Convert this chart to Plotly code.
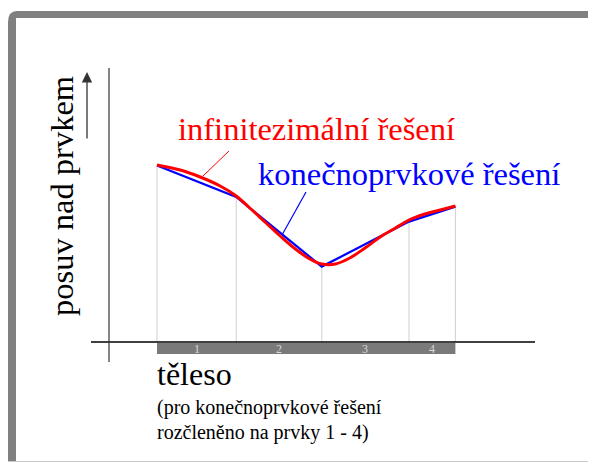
import plotly.graph_objects as go

# body coordinate of the element nodes (element lengths) and displacement values
node_x = [0.0, 0.99, 2.06, 3.15, 3.73]
fe_u = [8.82, 7.25, 3.77, 6.02, 6.77]

# infinitesimal (exact) solution
exact_x = [0.0, 0.29, 0.54, 0.79, 0.99, 1.16, 1.35, 1.54, 1.73, 1.91, 2.06,
           2.23, 2.41, 2.60, 2.79, 2.98, 3.15, 3.35, 3.54, 3.73]
exact_u = [8.85, 8.60, 8.25, 7.80, 7.30, 6.70, 6.00, 5.30, 4.65, 4.15, 3.90,
           3.90, 4.20, 4.70, 5.25, 5.70, 6.10, 6.40, 6.60, 6.80]

element_labels = ['1', '2', '3', '4']

W, H = 596, 462
OFF = 8            # page margin of the browser
X0, SX = 157, 80   # pixel of x=0, pixels per unit
Y0, SY = 342, 20   # pixel of u=0, pixels per unit
FONT = 'Liberation Serif, Times New Roman, Times, serif'


def px(p):
    return (p - X0) / SX


def py(p):
    return (Y0 - p) / SY


fig = go.Figure()

shapes = []
# frame
shapes.append(dict(type='rect', x0=px(8), x1=px(16), y0=py(22), y1=py(470),
                   fillcolor='#808080', line=dict(width=0)))
shapes.append(dict(type='rect', x0=px(16), x1=px(610), y0=py(11), y1=py(18),
                   fillcolor='#808080', line=dict(width=0)))
shapes.append(dict(type='path', path=f'M {px(8)},{py(22)} Q {px(8)},{py(11)} {px(17)},{py(11)} '
                                     f'L {px(17)},{py(18)} L {px(16)},{py(18)} L {px(16)},{py(22)} Z',
                   fillcolor='#808080', line=dict(width=0)))
shapes.append(dict(type='line', x0=px(8), x1=px(610), y0=py(461.5), y1=py(461.5),
                   line=dict(color='#c8c8c8', width=1)))
# axes
shapes.append(dict(type='line', x0=px(91), x1=px(535), y0=0, y1=0,
                   line=dict(color='black', width=1.6)))
shapes.append(dict(type='line', x0=px(109), x1=px(109), y0=py(68), y1=py(362),
                   line=dict(color='#333333', width=1.2)))
# body bar
shapes.append(dict(type='rect', x0=node_x[0], x1=node_x[-1], y0=py(343), y1=py(354),
                   fillcolor='#7a7a7a', line=dict(width=0), layer='below'))
# node grid lines
for xv, uv in zip(node_x, fe_u):
    shapes.append(dict(type='line', x0=xv, x1=xv, y0=uv, y1=0, layer='below',
                       line=dict(color='#d0d0d0', width=1)))
# leader lines
shapes.append(dict(type='line', x0=px(203), y0=py(176), x1=px(229), y1=py(151),
                   line=dict(color='red', width=1)))
shapes.append(dict(type='line', x0=px(282), y0=py(235), x1=px(306), y1=py(192),
                   line=dict(color='blue', width=1.2)))

fig.add_trace(go.Scatter(x=node_x, y=fe_u, mode='lines',
                         line=dict(color='blue', width=2.2), showlegend=False))
fig.add_trace(go.Scatter(x=exact_x, y=exact_u, mode='lines',
                         line=dict(color='red', width=3, shape='spline'), showlegend=False))

ann = []
for i, lab in enumerate(element_labels):
    ann.append(dict(x=(node_x[i] + node_x[i + 1]) / 2, y=py(348.5), text=lab,
                    showarrow=False, font=dict(family=FONT, size=12, color='#d8d8d8')))
ann.append(dict(x=px(176), y=py(129), text='infinitezimální řešení', xanchor='left',
                showarrow=False, font=dict(family=FONT, size=32.5, color='red')))
ann.append(dict(x=px(256), y=py(173.5), text='konečnoprvkové řešení', xanchor='left',
                showarrow=False, font=dict(family=FONT, size=32.5, color='blue')))
ann.append(dict(x=px(62), y=py(196), text='posuv nad prvkem', textangle=-90,
                showarrow=False, font=dict(family=FONT, size=32.5, color='black')))
ann.append(dict(x=px(155), y=py(374), text='těleso', xanchor='left',
                showarrow=False, font=dict(family=FONT, size=32, color='black')))
ann.append(dict(x=px(155), y=py(407), text='(pro konečnoprvkové řešení', xanchor='left',
                showarrow=False, font=dict(family=FONT, size=20, color='black')))
ann.append(dict(x=px(155), y=py(432), text='rozčleněno na prvky 1 - 4)', xanchor='left',
                showarrow=False, font=dict(family=FONT, size=20, color='black')))
# arrow next to the axis title
ann.append(dict(x=px(87), y=py(72), ax=0, ay=68, text='', showarrow=True,
                arrowhead=2, arrowsize=1.6, arrowwidth=1.3, arrowcolor='#333333'))

fig.update_layout(
    width=W, height=H, autosize=False,
    margin=dict(l=0, r=0, t=0, b=0),
    paper_bgcolor='white', plot_bgcolor='white',
    xaxis=dict(range=[px(OFF), px(OFF + W)], visible=False, fixedrange=True),
    yaxis=dict(range=[py(OFF + H), py(OFF)], visible=False, fixedrange=True),
    shapes=shapes, annotations=ann, showlegend=False,
)

fig.write_html('out.html', config={'displayModeBar': False},
               post_script="document.documentElement.style.overflow='hidden';"
                           "document.body.style.overflow='hidden';")
